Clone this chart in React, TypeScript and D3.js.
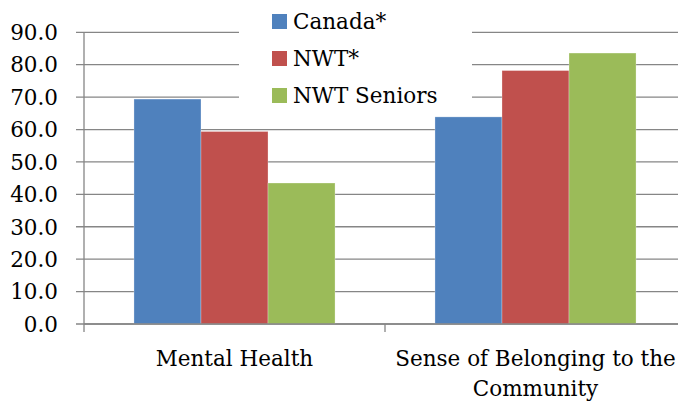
import { useEffect, useRef } from "react";
import * as d3 from "d3";

const categories = ["Mental Health", "Sense of Belonging to the Community"];
const seriesNames = ["Canada*", "NWT*", "NWT Seniors"];
const canada = [69.4, 63.9];
const nwt = [59.4, 78.2];
const nwtSeniors = [43.5, 83.6];
const yTicks = [0, 10, 20, 30, 40, 50, 60, 70, 80, 90];
const colors = ["#4F81BD", "#C0504D", "#9BBB59"];

export default function App() {
  const svgRef = useRef<SVGSVGElement | null>(null);

  useEffect(() => {
    if (!svgRef.current) return;
    const svg = d3.select(svgRef.current);
    svg.selectAll("*").remove();

    const width = 678;
    const height = 402;
    const margin = { top: 32.3, left: 84, bottom: 324, right: 686 };
    const font = "'DejaVu Serif', serif";

    const values = [canada, nwt, nwtSeniors];

    const x0 = d3.scaleBand<string>().domain(categories).range([margin.left, margin.right]);
    const bw = x0.bandwidth();
    const x1 = d3.scaleBand<string>().domain(seriesNames).range([bw * 0.166, bw * 0.834]);
    const y = d3.scaleLinear().domain([0, 90]).range([margin.bottom, margin.top]);

    // gridlines + tick marks
    svg
      .append("g")
      .selectAll("line")
      .data(yTicks)
      .enter()
      .append("line")
      .attr("x1", margin.left - 8)
      .attr("x2", width)
      .attr("y1", (d) => y(d))
      .attr("y2", (d) => y(d))
      .attr("stroke", "#868686")
      .attr("stroke-width", 1.3);

    // y labels
    svg
      .append("g")
      .selectAll("text")
      .data(yTicks)
      .enter()
      .append("text")
      .attr("x", 58)
      .attr("y", (d) => y(d))
      .attr("dy", "0.36em")
      .attr("text-anchor", "end")
      .style("font-family", font)
      .style("font-size", "21.5px")
      .attr("fill", "#000")
      .text((d) => d.toFixed(1));

    // bars
    categories.forEach((c, ci) => {
      seriesNames.forEach((s, si) => {
        const v = values[si][ci];
        svg
          .append("rect")
          .attr("x", (x0(c) ?? 0) + (x1(s) ?? 0))
          .attr("y", y(v))
          .attr("width", x1.bandwidth())
          .attr("height", y(0) - y(v))
          .attr("fill", colors[si])
          .attr("stroke", "rgba(255,255,255,0.35)")
          .attr("stroke-width", 0.8);
      });
    });

    // axes
    svg
      .append("line")
      .attr("x1", margin.left)
      .attr("x2", margin.left)
      .attr("y1", margin.top)
      .attr("y2", margin.bottom + 8)
      .attr("stroke", "#868686")
      .attr("stroke-width", 1.3);
    svg
      .append("line")
      .attr("x1", margin.left)
      .attr("x2", width)
      .attr("y1", margin.bottom)
      .attr("y2", margin.bottom)
      .attr("stroke", "#868686")
      .attr("stroke-width", 1.3);
    categories.forEach((c) => {
      const xb = (x0(c) ?? 0) + bw;
      svg
        .append("line")
        .attr("x1", xb)
        .attr("x2", xb)
        .attr("y1", margin.bottom)
        .attr("y2", margin.bottom + 8)
        .attr("stroke", "#868686")
        .attr("stroke-width", 1.3);
    });

    // category labels
    const catLines = [["Mental Health"], ["Sense of Belonging to the", "Community"]];
    categories.forEach((c, ci) => {
      const cx = (x0(c) ?? 0) + bw / 2;
      const t = svg
        .append("text")
        .attr("x", cx)
        .attr("y", 366)
        .attr("text-anchor", "middle")
        .style("font-family", font)
        .style("font-size", "21.5px")
        .attr("fill", "#000");
      catLines[ci].forEach((line, li) => {
        t.append("tspan")
          .attr("x", cx)
          .attr("dy", li === 0 ? 0 : 30)
          .text(line);
      });
    });

    // legend
    const lg = svg.append("g");
    lg.append("rect")
      .attr("x", 239)
      .attr("y", 0)
      .attr("width", 233)
      .attr("height", 112)
      .attr("fill", "#fff");
    seriesNames.forEach((s, i) => {
      const ly = 14 + i * 37;
      lg.append("rect")
        .attr("x", 272)
        .attr("y", ly)
        .attr("width", 15)
        .attr("height", 15)
        .attr("fill", colors[i]);
      lg.append("text")
        .attr("x", 293)
        .attr("y", ly + 7.5)
        .attr("dy", "0.36em")
        .style("font-family", font)
        .style("font-size", "21.5px")
        .attr("fill", "#000")
        .text(s);
    });

    svg.attr("width", width).attr("height", height);
  }, []);

  return (
    <svg
      ref={svgRef}
      width={678}
      height={402}
      style={{ position: "absolute", left: 0, top: 0, background: "#fff" }}
    ></svg>
  );
}
